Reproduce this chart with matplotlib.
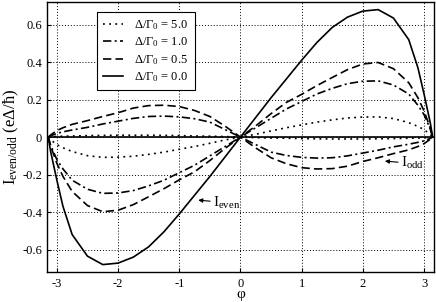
import matplotlib
matplotlib.use("Agg")
import matplotlib.pyplot as plt
from matplotlib.ticker import FuncFormatter

plt.rcParams['font.family'] = ['Liberation Serif', 'DejaVu Serif']
plt.rcParams['mathtext.fontset'] = 'custom'
plt.rcParams['mathtext.rm'] = 'Liberation Serif'
plt.rcParams['mathtext.it'] = 'Liberation Serif:italic'
plt.rcParams['axes.unicode_minus'] = False

phi = [-3.1416, -3.1, -3.0, -2.9, -2.75, -2.5, -2.25, -2.0, -1.75, -1.5, -1.25, -1.0, -0.75, -0.5, -0.25,
       0.0, 0.25, 0.5, 0.75, 1.0, 1.25, 1.5, 1.75, 2.0, 2.25, 2.5, 2.75, 2.9, 3.0, 3.1, 3.1416]

# I_even for each Delta/Gamma0
even_00 = [0.0, -0.08, -0.23, -0.37, -0.52, -0.635, -0.68, -0.672, -0.64, -0.585, -0.505, -0.41, -0.31, -0.21, -0.105,
           0.0, 0.105, 0.21, 0.31, 0.41, 0.505, 0.585, 0.64, 0.672, 0.68, 0.635, 0.52, 0.37, 0.23, 0.08, 0.0]
even_05 = [0.0, -0.05, -0.14, -0.21, -0.29, -0.365, -0.398, -0.39, -0.36, -0.318, -0.275, -0.228, -0.185, -0.125, -0.06,
           0.0, 0.06, 0.125, 0.185, 0.228, 0.275, 0.318, 0.36, 0.39, 0.398, 0.365, 0.29, 0.21, 0.14, 0.05, 0.0]
even_10 = [0.0, -0.045, -0.12, -0.17, -0.23, -0.278, -0.30, -0.298, -0.285, -0.26, -0.23, -0.19, -0.15, -0.10, -0.05,
           0.0, 0.05, 0.10, 0.15, 0.19, 0.23, 0.26, 0.285, 0.298, 0.30, 0.278, 0.23, 0.17, 0.12, 0.045, 0.0]
even_50 = [0.0, -0.015, -0.04, -0.057, -0.077, -0.099, -0.108, -0.107, -0.102, -0.092, -0.08, -0.065, -0.05, -0.033, -0.015,
           0.0, 0.015, 0.033, 0.05, 0.065, 0.08, 0.092, 0.102, 0.107, 0.108, 0.099, 0.077, 0.057, 0.04, 0.015, 0.0]

# I_odd for each Delta/Gamma0
odd_00 = [0.0] * 31
odd_05 = [0.0, 0.012, 0.035, 0.05, 0.068, 0.088, 0.11, 0.13, 0.155, 0.168, 0.17, 0.163, 0.142, 0.11, 0.058,
          0.0, -0.058, -0.11, -0.142, -0.163, -0.17, -0.168, -0.155, -0.13, -0.11, -0.088, -0.068, -0.05, -0.035, -0.012, 0.0]
odd_10 = [0.0, 0.007, 0.02, 0.028, 0.038, 0.052, 0.07, 0.085, 0.10, 0.11, 0.112, 0.108, 0.098, 0.08, 0.04,
          0.0, -0.04, -0.08, -0.098, -0.108, -0.112, -0.11, -0.10, -0.085, -0.07, -0.052, -0.038, -0.028, -0.02, -0.007, 0.0]
odd_50 = [0.0, 0.002, 0.004, 0.005, 0.006, 0.008, 0.009, 0.01, 0.01, 0.01, 0.009, 0.008, 0.006, 0.005, 0.003,
          0.0, -0.003, -0.005, -0.006, -0.008, -0.009, -0.01, -0.01, -0.01, -0.009, -0.008, -0.006, -0.005, -0.004, -0.002, 0.0]

labels = ['Δ/Γ$_\\mathregular{0}$ = 5.0', 'Δ/Γ$_\\mathregular{0}$ = 1.0',
          'Δ/Γ$_\\mathregular{0}$ = 0.5', 'Δ/Γ$_\\mathregular{0}$ = 0.0']
xticks = [-3, -2, -1, 0, 1, 2, 3]
yticks = [-0.6, -0.4, -0.2, 0, 0.2, 0.4, 0.6]

fig = plt.figure(figsize=(4.36, 3.02), dpi=100)
ax = fig.add_axes([0.108, 0.099, 0.887, 0.894])

lw = 1.2
styles = [
    dict(dashes=(1.1, 2.6)),
    dict(dashes=(5, 2, 1.2, 2)),
    dict(dashes=(5, 2.5)),
    dict(linestyle='-'),
]
evens = [even_50, even_10, even_05, even_00]
odds = [odd_50, odd_10, odd_05, odd_00]
for ev, od, st, lab in zip(evens, odds, styles, labels):
    ax.plot(phi, ev, color='black', lw=lw, label=lab, **st)
    ax.plot(phi, od, color='black', lw=lw, **st)

ax.set_xlim(-3.16, 3.16)
ax.set_ylim(-0.72, 0.72)
ax.set_xticks(xticks)
ax.set_yticks(yticks)
ax.yaxis.set_major_formatter(FuncFormatter(lambda v, p: '0' if abs(v) < 1e-9 else f'{v:.1f}'))
ax.tick_params(direction='in', length=3, labelsize=9, width=0.8)
ax.tick_params(axis='x', pad=4)
ax.grid(True, color='black', linestyle=(0, (1, 2)), linewidth=0.7)
for s in ax.spines.values():
    s.set_linewidth(1.0)

ax.set_xlabel('φ', fontsize=11, labelpad=-1)
ax.set_ylabel(r'I$_\mathregular{even/odd}$ (eΔ/ħ)', fontsize=12)
ax.yaxis.set_label_coords(-0.068, 0.5)

leg = ax.legend(loc='upper left', bbox_to_anchor=(0.129, 0.963), borderaxespad=0,
                fontsize=9, handlelength=1.6, fancybox=False, edgecolor='black',
                framealpha=1, borderpad=0.5, labelspacing=0.28, handletextpad=0.9)
leg.get_frame().set_linewidth(0.8)

ax.annotate(r'I$_\mathregular{even}$', xy=(-0.69, -0.336), xytext=(-0.45, -0.35),
            fontsize=11, va='center', ha='left',
            arrowprops=dict(arrowstyle='-|>', color='black', lw=0.8, mutation_scale=6, shrinkA=0, shrinkB=0))
ax.annotate(r'I$_\mathregular{odd}$', xy=(2.36, -0.128), xytext=(2.62, -0.14),
            fontsize=11, va='center', ha='left',
            arrowprops=dict(arrowstyle='-|>', color='black', lw=0.8, mutation_scale=6, shrinkA=0, shrinkB=0))

fig.savefig('out.png', dpi=100)
